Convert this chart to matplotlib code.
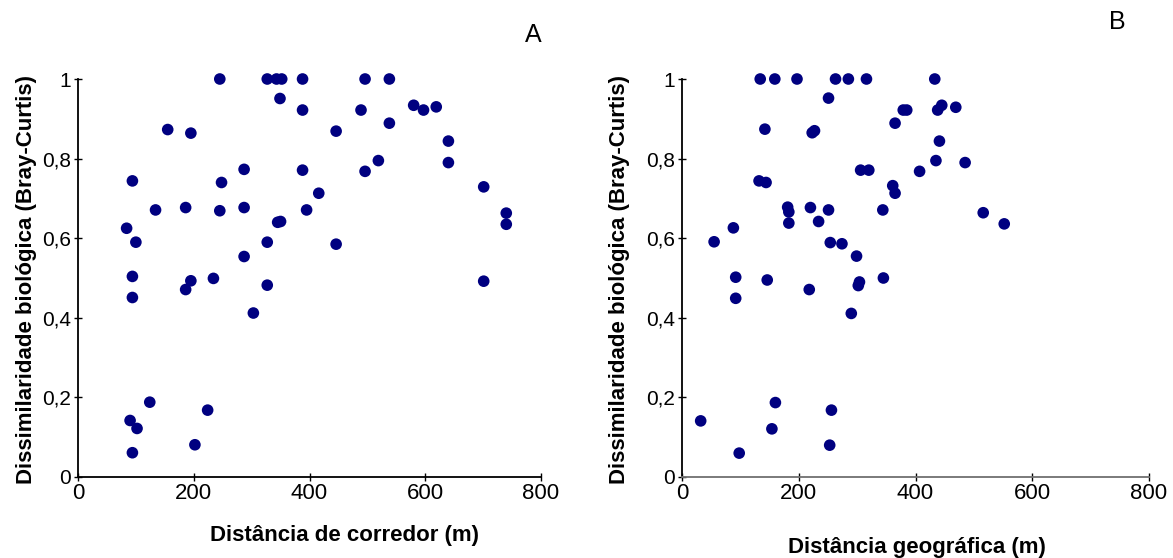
import matplotlib
matplotlib.use("Agg")
from matplotlib import pyplot as plt

plt.rcParams['font.family'] = ['Liberation Sans', 'DejaVu Sans']

# Panel A: corridor distance (m) vs Bray-Curtis dissimilarity
dist_corredor = [245, 327, 343, 352, 388, 496, 538, 349, 388, 489,
                 538, 580, 597, 619, 155, 195, 446, 640, 640, 519,
                 496, 287, 388, 94, 248, 416, 134, 186, 245, 287,
                 395, 701, 740, 740, 84, 100, 327, 345, 350, 287,
                 446, 94, 94, 195, 186, 234, 303, 327, 701, 124,
                 90, 102, 94, 202, 224]
dissim_a = [1.0, 1.0, 1.0, 1.0, 1.0, 1.0, 1.0, 0.951, 0.922, 0.922,
            0.889, 0.934, 0.922, 0.930, 0.873, 0.864, 0.869, 0.844, 0.790, 0.795,
            0.768, 0.773, 0.771, 0.744, 0.740, 0.713, 0.671, 0.677, 0.669, 0.677,
            0.671, 0.729, 0.663, 0.635, 0.625, 0.590, 0.590, 0.640, 0.642, 0.554,
            0.585, 0.504, 0.451, 0.493, 0.471, 0.499, 0.412, 0.482, 0.492, 0.188,
            0.142, 0.122, 0.061, 0.081, 0.168]

# Panel B: geographic distance (m) vs Bray-Curtis dissimilarity
dist_geo = [134, 159, 197, 263, 285, 316, 433, 251, 142, 223,
            227, 306, 320, 132, 144, 181, 183, 183, 220, 251,
            234, 88, 55, 254, 274, 299, 379, 385, 438, 445,
            469, 365, 441, 435, 485, 407, 361, 365, 516, 552,
            344, 345, 92, 92, 146, 218, 290, 302, 304, 32,
            160, 154, 98, 256, 253]
dissim_b = [1.0, 1.0, 1.0, 1.0, 1.0, 1.0, 1.0, 0.952, 0.874, 0.865,
            0.870, 0.771, 0.771, 0.744, 0.740, 0.678, 0.666, 0.638, 0.677, 0.671,
            0.642, 0.626, 0.591, 0.589, 0.586, 0.555, 0.922, 0.922, 0.922, 0.934,
            0.929, 0.889, 0.844, 0.795, 0.790, 0.768, 0.732, 0.713, 0.664, 0.636,
            0.671, 0.500, 0.502, 0.449, 0.495, 0.471, 0.411, 0.481, 0.490, 0.141,
            0.187, 0.121, 0.060, 0.168, 0.080]

y_ticks = [0, 0.2, 0.4, 0.6, 0.8, 1.0]
y_ticklabels = ["0", "0,2", "0,4", "0,6", "0,8", "1"]
x_ticks = [0, 200, 400, 600, 800]
x_ticklabels = ["0", "200", "400", "600", "800"]

ylabel = "Dissimilaridade biológica (Bray-Curtis)"

W, H = 1173, 558
fig = plt.figure(figsize=(W / 100, H / 100), dpi=100)

def px_axes(x0, x1, y_top, y_bot):
    return fig.add_axes([x0 / W, 1 - y_bot / H, (x1 - x0) / W, (y_bot - y_top) / H])

ax_a = px_axes(78, 541, 79, 477)
ax_b = px_axes(682, 1149, 79, 477)

for ax, xs, ys in [(ax_a, dist_corredor, dissim_a), (ax_b, dist_geo, dissim_b)]:
    ax.scatter(xs, ys, s=70, color="#000080", edgecolors="none", clip_on=False, zorder=3)
    ax.set_xlim(0, 800)
    ax.set_ylim(0, 1)
    ax.set_xticks(x_ticks)
    ax.set_xticklabels(x_ticklabels)
    ax.set_yticks(y_ticks)
    ax.set_yticklabels(y_ticklabels)
    ax.spines["top"].set_visible(False)
    ax.spines["right"].set_visible(False)
    ax.spines["left"].set_linewidth(1.3)
    ax.spines["bottom"].set_linewidth(1.3)
    ax.tick_params(axis="x", direction="inout", length=6, width=1, labelsize=16, pad=1)
    ax.tick_params(axis="y", direction="inout", length=6, width=1, labelsize=15, pad=2)

ax_b.spines["bottom"].set_color("#707070")

fig.text(27 / W, 1 - 279 / H, ylabel, rotation=90, ha="center", va="center",
         fontsize=16, fontweight="bold")
fig.text(620 / W, 1 - 280 / H, ylabel, rotation=90, ha="center", va="center",
         fontsize=16, fontweight="bold")
fig.text(345 / W, 1 - 535 / H, "Distância de corredor (m)", ha="center", va="center",
         fontsize=16, fontweight="bold")
fig.text(917 / W, 1 - 547 / H, "Distância geográfica (m)", ha="center", va="center",
         fontsize=16, fontweight="bold")
fig.text(533 / W, 1 - 35 / H, "A", ha="center", va="center", fontsize=18)
fig.text(1117 / W, 1 - 22 / H, "B", ha="center", va="center", fontsize=18)

fig.savefig("out.png", dpi=100)
